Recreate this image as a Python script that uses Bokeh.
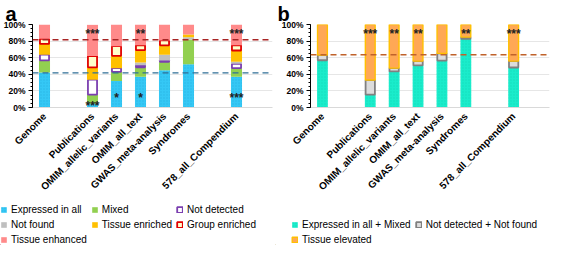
import math
from bokeh.plotting import figure
from bokeh.models import (ColumnDataSource, FactorRange, Range1d, FixedTicker,
                          PrintfTickFormatter, Span, Legend, LegendItem, Title)
from bokeh.layouts import row, column
from bokeh.core.properties import value
from bokeh.embed import file_html
from bokeh.resources import INLINE

# ---------------- data ----------------
categories = ["Genome", "Publications", "OMIM_allelic_variants", "OMIM_all_text",
              "GWAS_meta-analysis", "Syndromes", "578_all_Compendium"]
x_factors = ["Genome", " ", "Publications", "OMIM_allelic_variants", "OMIM_all_text",
             "GWAS_meta-analysis", "Syndromes", "  ", "578_all_Compendium", "   "]
y_ticks = [0, 20, 40, 60, 80, 100]

# panel a (percent of genes)
expressed_in_all = [42.3, 4.5, 32.0, 37.1, 45.0, 52.0, 37.0]
mixed            = [14.4, 11.0, 11.0, 11.4, 10.0, 30.0, 10.4]
not_detected     = [6.9, 18.0, 4.4, 2.4, 1.7, 0.0, 5.2]
not_found        = [0.0, 0.0, 0.0, 3.4, 6.9, 2.5, 2.4]
tissue_enriched  = [13.0, 14.8, 14.8, 14.8, 11.3, 3.5, 13.7]
group_enriched   = [6.2, 13.7, 11.7, 5.8, 5.9, 0.0, 6.2]
tissue_enhanced  = [17.2, 37.8, 26.1, 25.1, 19.2, 12.0, 25.1]
stars_a_top      = ["", "***", "", "**", "", "", "***"]
stars_a_bottom   = ["", "***", "*", "*", "", "", "***"]
ref_a_expressed  = 41.7
ref_a_enhanced   = 81.7

# panel b (percent of genes)
expressed_mixed  = [56.9, 15.5, 43.5, 50.8, 56.5, 82.6, 48.2]
notdet_notfound  = [6.3, 17.6, 4.0, 5.1, 8.7, 2.2, 7.7]
tissue_elevated  = [36.8, 66.9, 52.5, 44.1, 34.8, 15.2, 44.1]
stars_b_top      = ["", "***", "**", "**", "", "**", "***"]
ref_b_elevated   = 63.5

FONT = "Liberation Sans"
PLOT_H = 199
LEG_H = 46


def base_figure(width, left, right, letter, letter_offset):
    p = figure(width=width, height=PLOT_H,
               x_range=FactorRange(factors=x_factors, range_padding=0),
               y_range=Range1d(0, 100), output_backend="svg", toolbar_location=None,
               min_border_left=left, min_border_right=right,
               min_border_top=0, min_border_bottom=0)
    p.title = Title(text=letter, align="left", offset=letter_offset, standoff=0,
                    text_font=FONT, text_font_size="20px", text_font_style="bold",
                    text_color="black")
    p.outline_line_color = None
    p.xgrid.grid_line_color = None
    p.ygrid.grid_line_color = "#e6e6e6"
    p.ygrid.ticker = FixedTicker(ticks=y_ticks)
    ya = p.yaxis[0]
    ya.ticker = FixedTicker(ticks=y_ticks, minor_ticks=list(range(0, 101, 5)))
    ya.formatter = PrintfTickFormatter(format="%d%%")
    ya.axis_line_color = "black"
    ya.major_tick_line_color = "black"
    ya.minor_tick_line_color = "black"
    ya.major_tick_out = 4
    ya.major_tick_in = 0
    ya.minor_tick_out = 2
    ya.minor_tick_in = 0
    ya.major_label_text_font = FONT
    ya.major_label_text_font_size = "8.5px"
    ya.major_label_text_font_style = "bold"
    ya.major_label_text_color = "black"
    ya.major_label_standoff = 3
    xa = p.xaxis[0]
    xa.axis_line_color = "#d9d9d9"
    xa.major_tick_line_color = None
    xa.minor_tick_line_color = None
    xa.major_label_orientation = math.pi / 4
    xa.major_label_text_font = FONT
    xa.major_label_text_font_size = "10px"
    xa.major_label_text_font_style = "bold"
    xa.major_label_text_color = "black"
    xa.major_label_standoff = 1
    return p


def add_stack(p, series, width):
    bottoms = [0.0] * len(categories)
    for s in series:
        xs, bs, ts = [], [], []
        for i, v in enumerate(s["values"]):
            if v > 0:
                xs.append(categories[i])
                bs.append(bottoms[i])
                ts.append(bottoms[i] + v)
            bottoms[i] += v
        src = ColumnDataSource(dict(x=xs, bottom=bs, top=ts))
        p.vbar(x="x", bottom="bottom", top="top",
               width=s.get("width", width), source=src, **s["style"])


def add_stars(p, labels, ys):
    xs, ts, yy = [], [], []
    for c, t, y in zip(categories, labels, ys):
        if t:
            xs.append(c)
            ts.append(t)
            yy.append(y)
    src = ColumnDataSource(dict(x=xs, y=yy, t=ts))
    p.text(x="x", y="y", text="t", source=src, text_font=value(FONT),
           text_font_style="bold", text_font_size="12px", text_color="#222222",
           text_align="center", text_baseline="middle")


def legend_figure(width, series, ncols, xoff):
    lf = figure(width=width, height=LEG_H, x_range=Range1d(0, 1), y_range=Range1d(0, 1),
                x_axis_type=None, y_axis_type=None, title=None,
                output_backend="svg", toolbar_location=None, min_border=0)
    lf.grid.visible = False
    lf.outline_line_color = None
    items = []
    for s in series:
        # legend-only renderer: one bar placed outside the visible range
        r = lf.vbar(x=[-5], bottom=[-6], top=[-5], width=0.5, **s["style"])
        items.append(LegendItem(label=s["label"], renderers=[r]))
    lg = Legend(items=items, orientation="horizontal", ncols=ncols, location=(xoff, 0))
    lg.label_text_font = FONT
    lg.label_text_font_size = "10px"
    lg.label_text_color = "black"
    lg.glyph_width = 7
    lg.glyph_height = 7
    lg.label_standoff = 4
    lg.label_height = 11
    lg.spacing = 4
    lg.padding = 0
    lg.margin = 0
    lg.border_line_color = None
    lg.background_fill_alpha = 0
    lf.add_layout(lg)
    return lf


# ---------------- panel a ----------------
BW = 0.46
pa = base_figure(275, 29, 3, "a", -27)
blue_style = dict(fill_color="#35c8f5", line_color=None, hatch_pattern="dot",
                  hatch_color="#1c9fd0", hatch_scale=3, hatch_weight=0.6, hatch_alpha=0.45)
series_a = [
    dict(label="Expressed in all", values=expressed_in_all, style=blue_style),
    dict(label="Mixed", values=mixed, style=dict(fill_color="#92d050", line_color=None)),
    dict(label="Not detected", values=not_detected, width=0.38,
         style=dict(fill_color="white", line_color="#7b3fb0", line_width=1.8)),
    dict(label="Not found", values=not_found, style=dict(fill_color="#bfbfbf", line_color=None)),
    dict(label="Tissue enriched", values=tissue_enriched,
         style=dict(fill_color="#ffc000", line_color=None)),
    dict(label="Group enriched", values=group_enriched, width=0.38,
         style=dict(fill_color="#ffffcc", line_color="#e00000", line_width=1.8)),
    dict(label="Tissue enhanced", values=tissue_enhanced,
         style=dict(fill_color="#ff8a8a", line_color=None)),
]
add_stack(pa, series_a, BW)
pa.add_layout(Span(location=ref_a_enhanced, dimension="width", line_color="#a82424",
                   line_dash="6 4", line_width=1.4))
pa.add_layout(Span(location=ref_a_expressed, dimension="width", line_color="#2f6f96",
                   line_dash="6 4", line_width=1.4))
add_stars(pa, stars_a_top, [88] * len(categories))
add_stars(pa, stars_a_bottom, [min(12.0, e * 0.5) for e in expressed_in_all])
la = legend_figure(275, series_a, 3, 0)

# ---------------- panel b ----------------
pb = base_figure(276, 35, 2, "b", -33)
teal_style = dict(fill_color="#1aeccb", line_color=None, hatch_pattern="dot",
                  hatch_color="#10c9a8", hatch_scale=3, hatch_weight=0.6, hatch_alpha=0.45)
series_b = [
    dict(label="Expressed in all + Mixed", values=expressed_mixed, style=teal_style),
    dict(label="Not detected + Not found", values=notdet_notfound, width=0.39,
         style=dict(fill_color="#dcdcdc", line_color="#808080", line_width=1.8)),
    dict(label="Tissue elevated", values=tissue_elevated, width=0.41,
         style=dict(fill_color="#ffa855", line_color="#ffc000", line_width=1.4)),
]
add_stack(pb, series_b, 0.45)
pb.add_layout(Span(location=ref_b_elevated, dimension="width", line_color="#c0622a",
                   line_dash="6 4", line_width=1.4))
add_stars(pb, stars_b_top, [89] * len(categories))
lb = legend_figure(276, series_b, 2, 16)

layout = column(row(pa, pb), row(la, lb))
open("out.html", "w").write(file_html(layout, INLINE))
